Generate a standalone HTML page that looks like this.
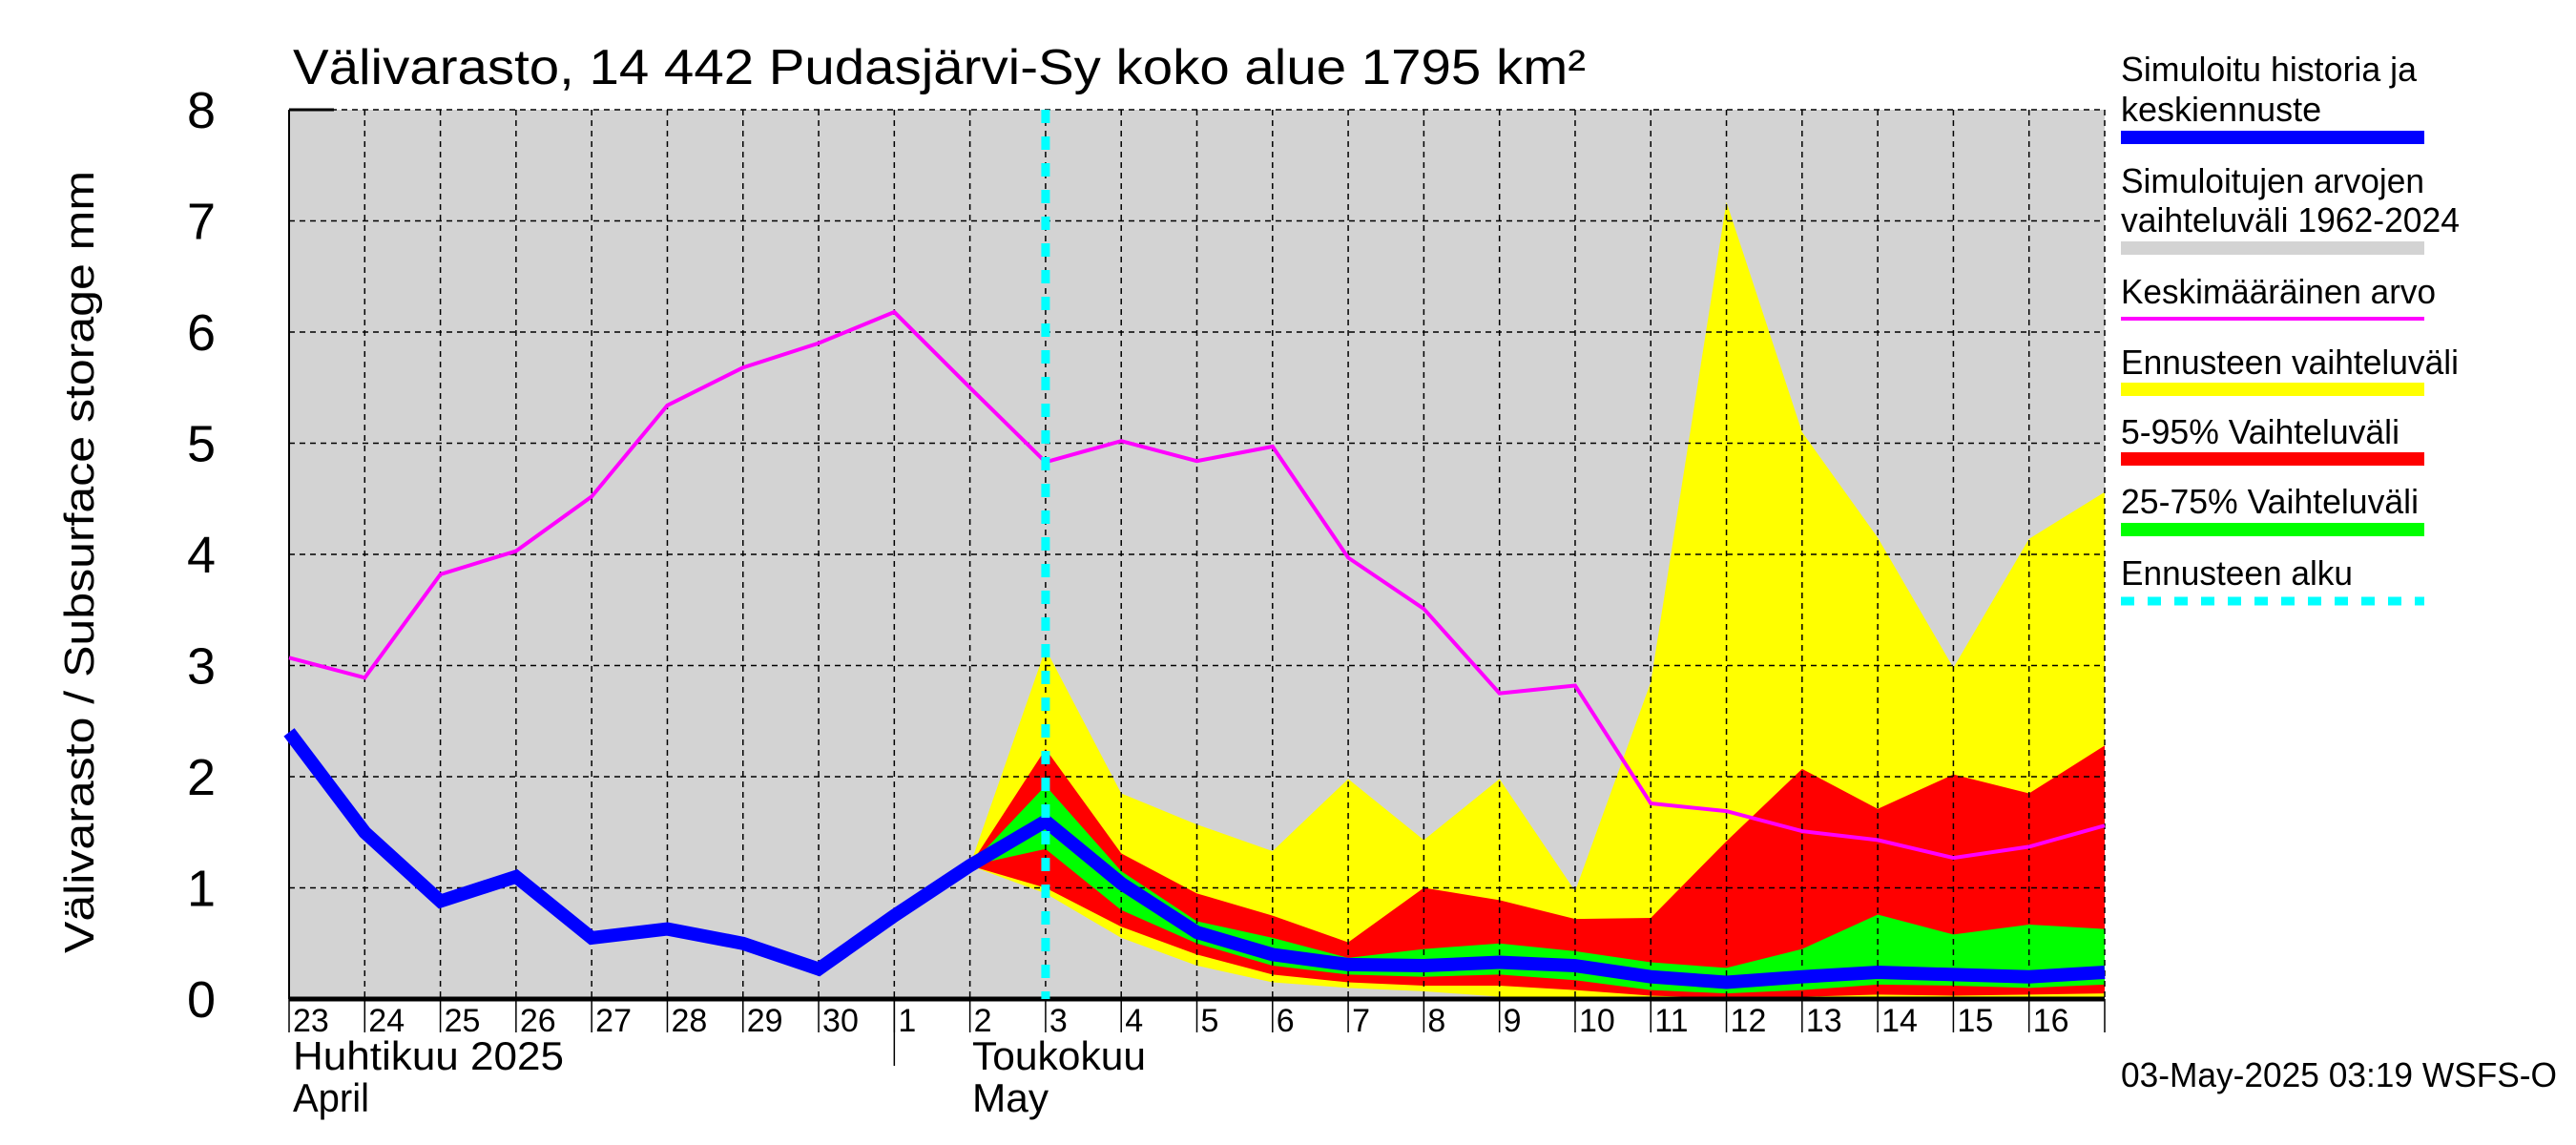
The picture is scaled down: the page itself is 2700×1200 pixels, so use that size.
<!DOCTYPE html>
<html><head><meta charset="utf-8"><style>
html,body{margin:0;padding:0;background:#fff;}
svg{display:block;font-family:"Liberation Sans",sans-serif;}
</style></head><body>
<svg id="chart" width="2700" height="1200" viewBox="0 0 2700 1200">
<text x="307" y="88" font-size="52" textLength="1355" lengthAdjust="spacingAndGlyphs">Välivarasto, 14 442 Pudasjärvi-Sy koko alue 1795 km²</text>
<text transform="translate(98,589) rotate(-90)" text-anchor="middle" font-size="44" textLength="820" lengthAdjust="spacingAndGlyphs">Välivarasto / Subsurface storage  mm</text>
<g id="plot"></g>
<g id="legend" font-size="36">
<text x="2223" y="85" textLength="310" lengthAdjust="spacingAndGlyphs">Simuloitu historia ja</text>
<text x="2223" y="127">keskiennuste</text>
<rect x="2223" y="137" width="318" height="14" fill="#0000ff"/>
<text x="2223" y="202" textLength="318" lengthAdjust="spacingAndGlyphs">Simuloitujen arvojen</text>
<text x="2223" y="243" textLength="355" lengthAdjust="spacingAndGlyphs">vaihteluväli 1962-2024</text>
<rect x="2223" y="253" width="318" height="14" fill="#d3d3d3"/>
<text x="2223" y="318" textLength="330" lengthAdjust="spacingAndGlyphs">Keskimääräinen arvo</text>
<rect x="2223" y="332" width="318" height="4" fill="#ff00ff"/>
<text x="2223" y="392" textLength="354" lengthAdjust="spacingAndGlyphs">Ennusteen vaihteluväli</text>
<rect x="2223" y="401" width="318" height="14" fill="#ffff00"/>
<text x="2223" y="465" textLength="292" lengthAdjust="spacingAndGlyphs">5-95% Vaihteluväli</text>
<rect x="2223" y="474" width="318" height="14" fill="#ff0000"/>
<text x="2223" y="538" textLength="312" lengthAdjust="spacingAndGlyphs">25-75% Vaihteluväli</text>
<rect x="2223" y="548" width="318" height="14" fill="#00ff00"/>
<text x="2223" y="613" textLength="243" lengthAdjust="spacingAndGlyphs">Ennusteen alku</text>
<line x1="2223" y1="630" x2="2541" y2="630" stroke="#00ffff" stroke-width="9" stroke-dasharray="14,14"/>
</g>
<text x="2223" y="1139" font-size="36" textLength="457" lengthAdjust="spacingAndGlyphs">03-May-2025 03:19 WSFS-O</text>
</svg>
<script>
const dayLabels=["23","24","25","26","27","28","29","30","1","2","3","4","5","6","7","8","9","10","11","12","13","14","15","16"];
const yTicks=[0,1,2,3,4,5,6,7,8];
const blue=[2.4,1.5,0.88,1.1,0.55,0.63,0.5,0.27,0.75,1.2,1.6,1.04,0.6,0.4,0.31,0.3,0.33,0.3,0.2,0.15,0.2,0.24,0.22,0.2,0.24];
const mean=[3.07,2.89,3.82,4.03,4.52,5.34,5.68,5.9,6.18,5.5,4.83,5.02,4.84,4.97,3.97,3.51,2.75,2.82,1.76,1.69,1.51,1.43,1.27,1.37,1.56];
const fStart=9;
const yelHi=[1.2,3.15,1.85,1.57,1.33,1.98,1.43,1.98,0.97,2.85,7.17,5.1,4.15,2.98,4.14,4.56];
const yelLo=[1.2,0.95,0.55,0.3,0.15,0.1,0.07,0.02,0,0,0,0,0,0,0,0];
const redHi=[1.2,2.25,1.31,0.95,0.75,0.51,1.0,0.89,0.72,0.73,1.42,2.07,1.71,2.02,1.85,2.28];
const redLo=[1.2,1.0,0.65,0.4,0.22,0.15,0.12,0.12,0.08,0.03,0.01,0.02,0.04,0.03,0.04,0.05];
const grnHi=[1.2,1.92,1.15,0.7,0.55,0.37,0.45,0.5,0.43,0.33,0.28,0.45,0.76,0.58,0.67,0.63];
const grnLo=[1.2,1.35,0.8,0.5,0.3,0.22,0.2,0.22,0.17,0.08,0.05,0.08,0.13,0.12,0.1,0.13];
const forecastDay=10;
const L=303,R=2206,T=115,B=1047,NDAYS=24;
const X=i=>L+(R-L)*i/NDAYS;
const Y=v=>B-(B-T)*v/8;
const NS="http://www.w3.org/2000/svg";
const g=document.getElementById('plot');
function mk(tag,attrs,parent){const e=document.createElementNS(NS,tag);for(const k in attrs)e.setAttribute(k,attrs[k]);(parent||g).appendChild(e);return e;}
let e=mk('rect',{x:L,y:T,width:R-L,height:B-T,fill:'#d3d3d3'});


function band(hi,lo,color,name){
 let pts=[];
 hi.forEach((v,k)=>pts.push(X(fStart+k)+','+Y(v)));
 for(let k=lo.length-1;k>=0;k--)pts.push(X(fStart+k)+','+Y(lo[k]));
 const p=mk('polygon',{points:pts.join(' '),fill:color});
 
 
}
band(yelHi,yelLo,'#ffff00','forecast-range-band');
band(redHi,redLo,'#ff0000','band-5-95');
band(grnHi,grnLo,'#00ff00','band-25-75');
// grid
for(let i=0;i<=NDAYS;i++){
 const l=mk('line',{x1:X(i),y1:T,x2:X(i),y2:B,stroke:'#000','stroke-width':1.5,'stroke-dasharray':'6,5'});
 
 
 const t=mk('line',{x1:X(i),y1:B,x2:X(i),y2:1082,stroke:'#000','stroke-width':1.5});
 
 
}
yTicks.forEach(v=>{
 const l=mk('line',{x1:L,y1:Y(v),x2:R,y2:Y(v),stroke:'#000','stroke-width':1.5,'stroke-dasharray':'6,5'});
 
 
 const t=mk('text',{x:226,y:Y(v)+19,'font-size':54,'text-anchor':'end'});
 t.textContent=v;
 
 
});
e=mk('line',{x1:L,y1:B,x2:R,y2:B,stroke:'#000','stroke-width':5});


e=mk('line',{x1:L,y1:T,x2:L,y2:B,stroke:'#000','stroke-width':2});


e=mk('line',{x1:L,y1:T,x2:350,y2:T,stroke:'#000','stroke-width':3});


function line(arr,color,w,name){
 const p=mk('polyline',{points:arr.map((v,i)=>X(i)+','+Y(v)).join(' '),fill:'none',stroke:color,'stroke-width':w,'stroke-linejoin':'miter'});
 
 
}
line(mean,'#ff00ff',4,'mean-line');
line(blue,'#0000ff',14,'simulated-line');
e=mk('line',{x1:X(forecastDay),y1:T,x2:X(forecastDay),y2:B,stroke:'#00ffff','stroke-width':9,'stroke-dasharray':'14,14'});


dayLabels.forEach((d,i)=>{
 const t=mk('text',{x:X(i)+4,y:1081,'font-size':34});
 t.textContent=d;
 
 
});
e=mk('line',{x1:X(8),y1:B,x2:X(8),y2:1117,stroke:'#000','stroke-width':1.5});


const months=[[307,1121,'Huhtikuu  2025',284,'month-label-april-fi'],[307,1165,'April',80,'month-label-april-en'],[1019,1121,'Toukokuu',182,'month-label-may-fi'],[1019,1165,'May',80,'month-label-may-en']];
months.forEach(m=>{
 const t=mk('text',{x:m[0],y:m[1],'font-size':42,textLength:m[3],lengthAdjust:'spacingAndGlyphs'});
 t.textContent=m[2];
 
 
});
</script>
</body></html>
